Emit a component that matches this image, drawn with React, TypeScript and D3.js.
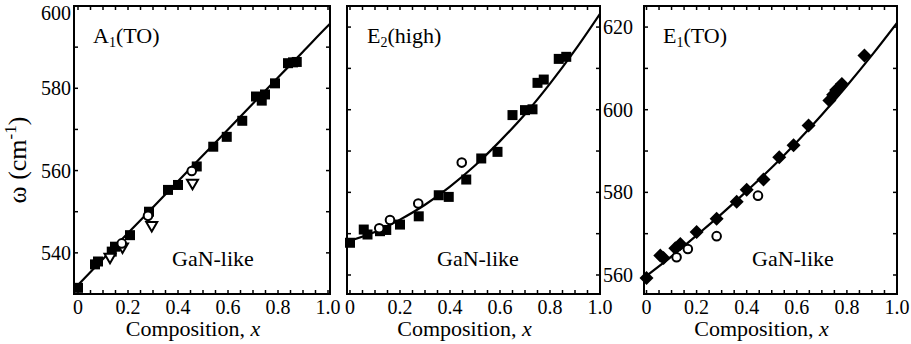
import React from "react";
import * as d3 from "d3";

const W = 911;
const H = 344;

// ---------- Panel 1: A1(TO) ----------
const a1SqX = [0, 0.068, 0.08, 0.135, 0.148, 0.208, 0.284, 0.36, 0.40, 0.475, 0.541, 0.595, 0.657, 0.712, 0.735, 0.748, 0.788, 0.84, 0.86, 0.875];
const a1SqY = [531.5, 537.2, 537.9, 540.3, 541.5, 544.3, 550.0, 555.3, 556.5, 561.0, 565.8, 568.2, 572.1, 578.0, 577.0, 578.5, 581.2, 586.1, 586.3, 586.4];
const a1CircX = [0.175, 0.28, 0.455];
const a1CircY = [542.3, 549.0, 559.9];
const a1TriX = [0.128, 0.178, 0.295, 0.458];
const a1TriY = [538.7, 541.2, 546.4, 556.7];
const a1FitX = [0, 0.1, 0.2, 0.3, 0.4, 0.5, 0.6, 0.7, 0.8, 0.9, 1.0, 1.01];
const a1FitY = [532.2, 538.5, 544.8, 551.1, 557.4, 563.7, 570.0, 576.3, 582.6, 588.9, 595.2, 595.8];

// ---------- Panel 2: E2(high) ----------
const e2SqX = [0, 0.055, 0.07, 0.12, 0.145, 0.2, 0.275, 0.355, 0.395, 0.465, 0.525, 0.59, 0.65, 0.70, 0.73, 0.75, 0.775, 0.835, 0.865];
const e2SqY = [567.8, 571.0, 569.8, 570.6, 570.9, 572.2, 574.2, 579.3, 578.9, 583.1, 588.2, 589.8, 598.7, 599.9, 600.1, 606.5, 607.3, 612.3, 612.8];
const e2CircX = [0.117, 0.16, 0.273, 0.447];
const e2CircY = [571.3, 573.3, 577.3, 587.2];
const e2FitX = [0, 0.1, 0.2, 0.3, 0.4, 0.5, 0.6, 0.7, 0.8, 0.9, 1.0];
const e2FitY = [568.3, 570.4, 573.4, 577.0, 581.4, 586.5, 592.4, 598.9, 606.3, 614.4, 623.2];

// ---------- Panel 3: E1(TO) ----------
const e1DiaX = [0, 0.055, 0.068, 0.115, 0.135, 0.2, 0.28, 0.36, 0.40, 0.467, 0.53, 0.587, 0.647, 0.73, 0.745, 0.757, 0.78, 0.87];
const e1DiaY = [559.3, 564.7, 564.1, 566.5, 567.5, 570.4, 573.6, 577.7, 580.6, 583.1, 588.5, 591.4, 596.2, 602.2, 603.6, 604.8, 606.2, 613.1];
const e1CircX = [0.12, 0.165, 0.28, 0.445];
const e1CircY = [564.3, 566.3, 569.4, 579.2];
const e1FitX = [0, 0.1, 0.2, 0.3, 0.4, 0.5, 0.6, 0.7, 0.8, 0.9, 1.0];
const e1FitY = [559.8, 564.5, 569.6, 574.8, 580.3, 586.0, 592.2, 598.8, 605.8, 613.2, 621.0];

const xTickLabels = ["0", "0.2", "0.4", "0.6", "0.8", "1.0"];
const xTickValues = [0, 0.2, 0.4, 0.6, 0.8, 1.0];
const yTicksA1 = [540, 560, 580, 600];
const yTicksE = [560, 580, 600, 620];

const panelLabels = ["A", "E", "E"];
const panelSubs = ["1", "2", "1"];
const panelSuffix = ["(TO)", "(high)", "(TO)"];

const FONT = "Liberation Serif";
const TOP = 6;
const BOTTOM = 294;

type Panel = {
  left: number;
  right: number;
  xDom: [number, number];
  yDom: [number, number];
  yTicks: number[];
  showYLabels: boolean;
  yLabelGap: number;
  titleX: number;
  ganX: number;
};

const panels: Panel[] = [
  { left: 74, right: 330, xDom: [-0.016, 1.008], yDom: [530, 600], yTicks: yTicksA1, showYLabels: true, yLabelGap: 3, titleX: 93, ganX: 172 },
  { left: 347, right: 600, xDom: [-0.012, 1.0], yDom: [555.4, 625.1], yTicks: yTicksE, showYLabels: false, yLabelGap: 4, titleX: 367, ganX: 437 },
  { left: 644, right: 897, xDom: [-0.01, 1.0], yDom: [555.4, 625.1], yTicks: yTicksE, showYLabels: true, yLabelGap: 11, titleX: 663, ganX: 752 },
];

function Square({ x, y }: { x: number; y: number }) {
  const s = 10;
  return <rect x={x - s / 2} y={y - s / 2} width={s} height={s} fill="#000" />;
}
function Diamond({ x, y }: { x: number; y: number }) {
  const r = 7;
  return <path d={`M${x},${y - r}L${x + r},${y}L${x},${y + r}L${x - r},${y}Z`} fill="#000" />;
}
function Circle({ x, y }: { x: number; y: number }) {
  return <circle cx={x} cy={y} r={4.3} fill="#fff" stroke="#000" strokeWidth={2} />;
}
function Tri({ x, y }: { x: number; y: number }) {
  const w = 5.5;
  return <path d={`M${x - w},${y - 4.5}L${x + w},${y - 4.5}L${x},${y + 5}Z`} fill="#fff" stroke="#000" strokeWidth={2} />;
}

function panelMarks(idx: number, xs: (v: number) => number, ys: (v: number) => number) {
  if (idx === 0) {
    return [
      ...a1SqX.map((v, i) => <Square key={"s" + i} x={xs(v)} y={ys(a1SqY[i])} />),
      ...a1TriX.map((v, i) => <Tri key={"t" + i} x={xs(v)} y={ys(a1TriY[i])} />),
      ...a1CircX.map((v, i) => <Circle key={"c" + i} x={xs(v)} y={ys(a1CircY[i])} />),
    ];
  }
  if (idx === 1) {
    return [
      ...e2SqX.map((v, i) => <Square key={"s" + i} x={xs(v)} y={ys(e2SqY[i])} />),
      ...e2CircX.map((v, i) => <Circle key={"c" + i} x={xs(v)} y={ys(e2CircY[i])} />),
    ];
  }
  return [
    ...e1DiaX.map((v, i) => <Diamond key={"d" + i} x={xs(v)} y={ys(e1DiaY[i])} />),
    ...e1CircX.map((v, i) => <Circle key={"c" + i} x={xs(v)} y={ys(e1CircY[i])} />),
  ];
}

export default function App() {
  const shapes: React.ReactNode[] = [];
  const texts: React.ReactNode[] = [];

  panels.forEach((p, idx) => {
    const xs = d3.scaleLinear().domain(p.xDom).range([p.left, p.right]);
    const ys = d3.scaleLinear().domain(p.yDom).range([BOTTOM, TOP]);
    const line = d3
      .line<[number, number]>()
      .x((d) => xs(d[0]))
      .y((d) => ys(d[1]))
      .curve(d3.curveMonotoneX);
    const fitX = idx === 0 ? a1FitX : idx === 1 ? e2FitX : e1FitX;
    const fitY = idx === 0 ? a1FitY : idx === 1 ? e2FitY : e1FitY;
    const fit = fitX.map((v, i) => [v, fitY[i]] as [number, number]);
    const minorX = d3.range(0, 21).map((i) => i * 0.05);
    const minorY = d3.range(Math.ceil(p.yDom[0] / 10), Math.floor(p.yDom[1] / 10) + 1).map((k) => k * 10);
    const clipId = `clip${idx}`;

    shapes.push(
      <g key={"p" + idx}>
        <clipPath id={clipId}>
          <rect x={p.left} y={TOP} width={p.right - p.left} height={BOTTOM - TOP} />
        </clipPath>
        {minorX.map((v, i) => (
          <g key={"xt" + i}>
            <line x1={xs(v)} x2={xs(v)} y1={BOTTOM} y2={BOTTOM - 4} stroke="#000" strokeWidth={1.5} />
            <line x1={xs(v)} x2={xs(v)} y1={TOP} y2={TOP + 4} stroke="#000" strokeWidth={1.5} />
          </g>
        ))}
        {minorY.map((v, i) => (
          <g key={"yt" + i}>
            <line x1={p.left} x2={p.left + 4} y1={ys(v)} y2={ys(v)} stroke="#000" strokeWidth={1.5} />
            <line x1={p.right} x2={p.right - 4} y1={ys(v)} y2={ys(v)} stroke="#000" strokeWidth={1.5} />
          </g>
        ))}
        <path d={line(fit) || ""} fill="none" stroke="#000" strokeWidth={2.2} clipPath={`url(#${clipId})`} />
        {panelMarks(idx, xs, ys)}
        <rect x={p.left} y={TOP} width={p.right - p.left} height={BOTTOM - TOP} fill="none" stroke="#000" strokeWidth={2} />
      </g>
    );

    xTickValues.forEach((v, i) => {
      texts.push(
        <text key={`xl${idx}-${i}`} x={xs(v)} y={314} textAnchor="middle" fontSize={20} fontFamily={FONT} fill="#000">
          {xTickLabels[i]}
        </text>
      );
    });
    if (p.showYLabels) {
      p.yTicks.forEach((v, i) => {
        texts.push(
          <text key={`yl${idx}-${i}`} x={p.left - p.yLabelGap} y={Math.max(ys(v), 13) + 7} textAnchor="end" fontSize={20} fontFamily={FONT} fill="#000">
            {String(v)}
          </text>
        );
      });
    }
    texts.push(
      <text key={`xt${idx}`} x={(p.left + p.right) / 2 - 9} y={336} textAnchor="middle" fontSize={22} fontFamily={FONT} fill="#000">
        Composition, <tspan fontStyle="italic">x</tspan>
      </text>
    );
    texts.push(
      <text key={`pl${idx}`} x={p.titleX} y={43} fontSize={22} fontFamily={FONT} fill="#000">
        {panelLabels[idx]}
        <tspan fontSize={14} dy={4}>{panelSubs[idx]}</tspan>
        <tspan dy={-4}>{panelSuffix[idx]}</tspan>
      </text>
    );
    texts.push(
      <text key={`gn${idx}`} x={p.ganX} y={266} fontSize={22} fontFamily={FONT} fill="#000">
        GaN-like
      </text>
    );
  });

  return (
    <svg width={W} height={H} style={{ position: "absolute", left: 0, top: 0 }}>
      <style>{`text { font-family: "Liberation Serif", serif; }`}</style>
      <rect x={0} y={0} width={W} height={H} fill="#fff" />
      {shapes}
      {texts}
      <text transform="translate(26,160) rotate(-90)" textAnchor="middle" fontSize={26} fontFamily={FONT} fill="#000">
        ω (cm<tspan fontSize={17} dy={-10}>-1</tspan><tspan dy={10}>)</tspan>
      </text>
    </svg>
  );
}
